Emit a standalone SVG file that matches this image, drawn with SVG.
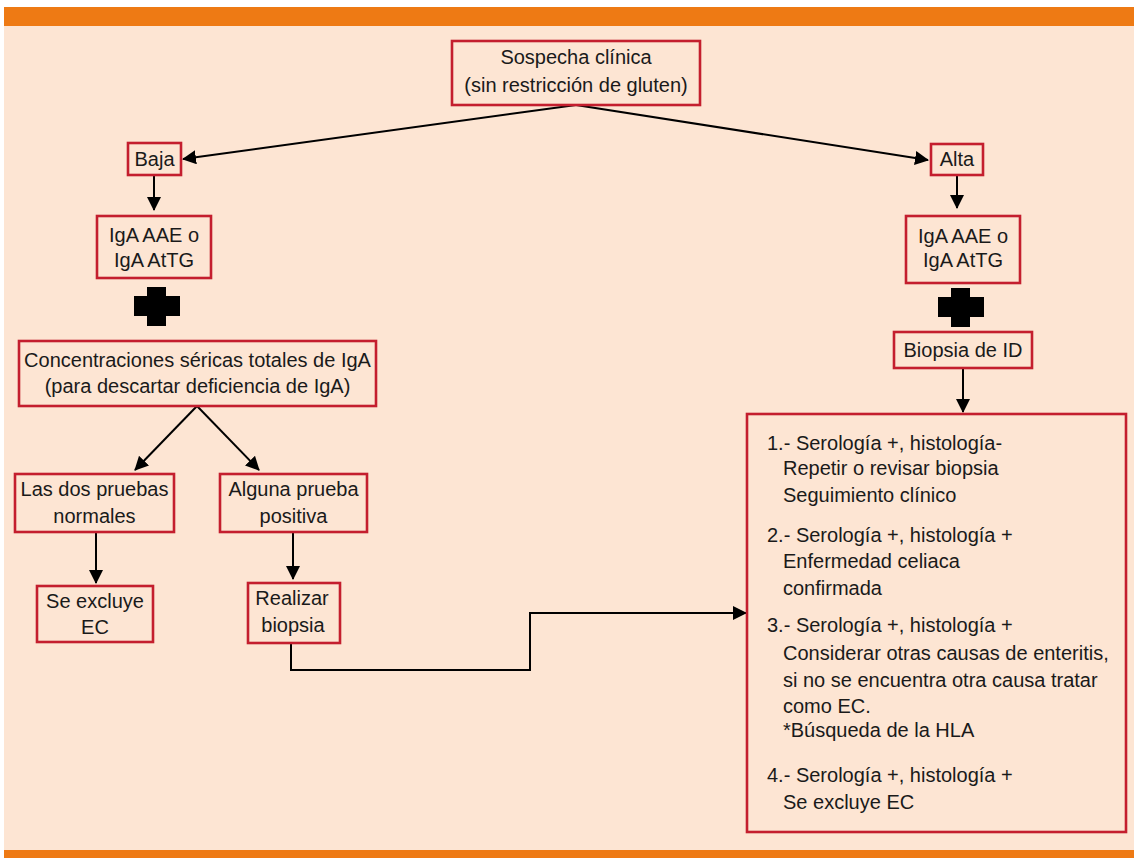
<svg xmlns="http://www.w3.org/2000/svg" width="1134" height="858" viewBox="0 0 1134 858">
<defs>
<marker id="ah" markerUnits="userSpaceOnUse" markerWidth="14" markerHeight="14" viewBox="0 0 14 14" refX="13" refY="7" orient="auto">
<path d="M0,0 L14,7 L0,14 Z" fill="#000"/>
</marker>
<style>
.box{fill:#FDE5D3;stroke:#C41E2E;stroke-width:2.6}
.t{font-family:"Liberation Sans",Arial,sans-serif;font-size:20px;fill:#1a1a1a}
.c{text-anchor:middle}
.ln{fill:none;stroke:#000;stroke-width:2}
.ar{fill:none;stroke:#000;stroke-width:2;marker-end:url(#ah)}
</style>
</defs>
<rect x="0" y="0" width="1134" height="858" fill="#FFFFFF"/>
<rect x="4" y="7" width="1130" height="851" fill="#FDE5D3"/>
<rect x="4" y="7" width="1130" height="19" fill="#EE7A14"/>
<rect x="4" y="850" width="1130" height="8" fill="#EE7A14"/>

<g id="connectors">
<line class="ar" x1="576" y1="105" x2="183" y2="159"/>
<line class="ar" x1="576" y1="105" x2="928" y2="160"/>
<line class="ar" x1="154" y1="175" x2="154" y2="210"/>
<line class="ar" x1="957" y1="175" x2="957" y2="208"/>
<line class="ar" x1="963" y1="368" x2="963" y2="412"/>
<line class="ar" x1="197" y1="406" x2="135" y2="470"/>
<line class="ar" x1="197" y1="406" x2="259" y2="470"/>
<line class="ar" x1="96" y1="532" x2="96" y2="583"/>
<line class="ar" x1="293" y1="532" x2="293" y2="579"/>
<polyline class="ar" points="291,643 291,670 530,670 530,613 746,613"/>
</g>

<g id="n-sospecha">
<rect class="box" x="452" y="41" width="248" height="64"/>
<text class="t c" x="576" y="64">Sospecha clínica</text>
<text class="t c" x="576" y="92">(sin restricción de gluten)</text>
</g>

<g id="n-baja">
<rect class="box" x="128" y="143" width="53" height="32"/>
<text class="t c" x="154.5" y="166">Baja</text>
</g>

<g id="n-alta">
<rect class="box" x="931" y="144" width="52" height="31"/>
<text class="t c" x="957" y="166">Alta</text>
</g>

<g id="n-iga-left">
<rect class="box" x="97" y="216" width="114" height="62"/>
<text class="t c" x="154" y="242">IgA AAE o</text>
<text class="t c" x="154" y="267">IgA AtTG</text>
</g>

<g id="n-iga-right">
<rect class="box" x="906" y="216" width="114" height="67"/>
<text class="t c" x="963" y="243">IgA AAE o</text>
<text class="t c" x="963" y="267">IgA AtTG</text>
</g>

<g id="plus-left">
<rect x="147" y="287" width="19" height="39" fill="#000"/>
<rect x="134" y="296" width="46" height="20" fill="#000"/>
</g>

<g id="plus-right">
<rect x="951" y="288" width="19" height="39" fill="#000"/>
<rect x="938" y="297" width="46" height="20" fill="#000"/>
</g>

<g id="n-biopsia-id">
<rect class="box" x="894" y="332" width="138" height="36"/>
<text class="t c" x="963" y="357">Biopsia de ID</text>
</g>

<g id="n-concentraciones">
<rect class="box" x="19" y="341" width="357" height="65"/>
<text class="t c" x="197.5" y="367">Concentraciones séricas totales de IgA</text>
<text class="t c" x="197.5" y="393">(para descartar deficiencia de IgA)</text>
</g>

<g id="n-las-dos">
<rect class="box" x="15" y="474" width="159" height="58"/>
<text class="t c" x="94.5" y="496">Las dos pruebas</text>
<text class="t c" x="94.5" y="523">normales</text>
</g>

<g id="n-alguna">
<rect class="box" x="220" y="474" width="147" height="58"/>
<text class="t c" x="293.5" y="496">Alguna prueba</text>
<text class="t c" x="293.5" y="523">positiva</text>
</g>

<g id="n-se-excluye">
<rect class="box" x="37" y="586" width="116" height="56"/>
<text class="t c" x="95" y="608">Se excluye</text>
<text class="t c" x="95" y="634">EC</text>
</g>

<g id="n-realizar">
<rect class="box" x="248" y="583" width="92" height="60"/>
<text class="t c" x="292" y="605">Realizar</text>
<text class="t c" x="293" y="632">biopsia</text>
</g>

<g id="n-resultados">
<rect class="box" x="747" y="414" width="379" height="418"/>
<text class="t" x="767" y="450">1.- Serología +, histología-</text>
<text class="t" x="783" y="475">Repetir o revisar biopsia</text>
<text class="t" x="783" y="502">Seguimiento clínico</text>
<text class="t" x="767" y="542">2.- Serología +, histología +</text>
<text class="t" x="783" y="568">Enfermedad celiaca</text>
<text class="t" x="783" y="595">confirmada</text>
<text class="t" x="767" y="632">3.- Serología +, histología +</text>
<text class="t" x="783" y="660">Considerar otras causas de enteritis,</text>
<text class="t" x="783" y="687">si no se encuentra otra causa tratar</text>
<text class="t" x="783" y="713">como EC.</text>
<text class="t" x="783" y="737">*Búsqueda de la HLA</text>
<text class="t" x="767" y="782">4.- Serología +, histología +</text>
<text class="t" x="783" y="809">Se excluye EC</text>
</g>
</svg>
